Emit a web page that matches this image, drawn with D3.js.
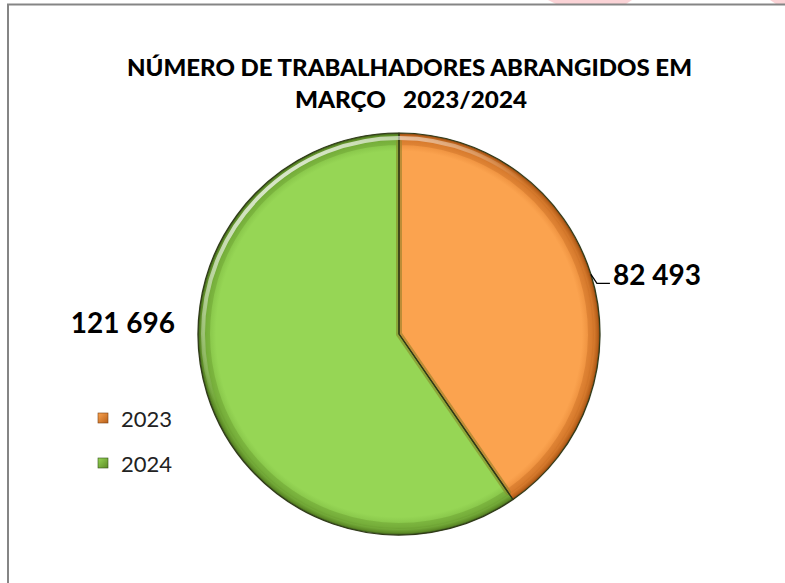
<!DOCTYPE html>
<html>
<head>
<meta charset="utf-8">
<script src="https://cdn.jsdelivr.net/npm/d3@7"></script>
<style>
  html, body { margin: 0; padding: 0; background: #fff; }
  svg { display: block; }
</style>
</head>
<body>
<div id="chart-area"></div>
<script>
// chart data
const years = ["2023", "2024"]
const workers = [82493, 121696]
const valueLabels = ["82 493", "121 696"]
const titleLines = ["NÚMERO DE TRABALHADORES ABRANGIDOS EM", "MARÇO   2023/2024"]

const WIDTH = 785
const HEIGHT = 583
const CX = 399, CY = 334, R = 201

const colors = {
  "2023": { base: "#fba34f", mid: "#e88a38", dark: "#b8601a", edge: "#7a4012" },
  "2024": { base: "#96d655", mid: "#82bf45", dark: "#5c8a26", edge: "#34501a" }
}

const svg = d3.select("#chart-area").append("svg")
  .attr("width", WIDTH)
  .attr("height", HEIGHT)

const defs = svg.append("defs")

// radial shading for the bevelled rim (local to the pie group)
years.forEach(yr => {
  const grad = defs.append("radialGradient")
    .attr("id", `rim-${yr}`)
    .attr("gradientUnits", "userSpaceOnUse")
    .attr("cx", 0).attr("cy", 0).attr("r", R)
  grad.append("stop").attr("offset", "0%").attr("stop-color", colors[yr].base)
  grad.append("stop").attr("offset", "91%").attr("stop-color", colors[yr].base)
  grad.append("stop").attr("offset", "96%").attr("stop-color", colors[yr].mid)
  grad.append("stop").attr("offset", "99%").attr("stop-color", colors[yr].dark)
  grad.append("stop").attr("offset", "100%").attr("stop-color", colors[yr].edge)

  const lg = defs.append("linearGradient")
    .attr("id", `key-${yr}`)
    .attr("x1", 0).attr("y1", 0).attr("x2", 1).attr("y2", 1)
  lg.append("stop").attr("offset", "0%").attr("stop-color", colors[yr].base)
  lg.append("stop").attr("offset", "100%").attr("stop-color", colors[yr].dark)
})

// highlight on the upper-left rim
const hl = defs.append("linearGradient")
  .attr("id", "highlight")
  .attr("gradientUnits", "userSpaceOnUse")
  .attr("x1", -R * 0.5).attr("y1", -R).attr("x2", 0).attr("y2", -R * 0.3)
hl.append("stop").attr("offset", "0%").attr("stop-color", "#ffffff").attr("stop-opacity", 0.85)
hl.append("stop").attr("offset", "100%").attr("stop-color", "#ffffff").attr("stop-opacity", 0)

// stray pink background bleed at the top
svg.append("path")
  .attr("d", "M548,0 L632,0 L626,4 L556,4 Z")
  .attr("fill", "#fbd3d6")
svg.append("path")
  .attr("d", "M770,0 L785,0 L785,4 L776,4 Z")
  .attr("fill", "#fbd3d6")

// frame (top and left edges only)
svg.append("line")
  .attr("x1", 7).attr("x2", WIDTH).attr("y1", 4.5).attr("y2", 4.5)
  .attr("stroke", "#858585").attr("stroke-width", 2)
svg.append("line")
  .attr("x1", 8).attr("x2", 8).attr("y1", 4).attr("y2", HEIGHT)
  .attr("stroke", "#858585").attr("stroke-width", 2)

// title
const title = svg.append("text")
  .attr("font-family", "Lato, 'Open Sans', sans-serif")
  .attr("font-weight", "900")
  .attr("font-size", "23px")
  .attr("fill", "#000")
title.append("tspan")
  .attr("x", 127).attr("y", 76)
  .attr("textLength", 565).attr("lengthAdjust", "spacingAndGlyphs")
  .text(titleLines[0])
title.append("tspan")
  .attr("x", 295).attr("y", 108)
  .attr("textLength", 232).attr("lengthAdjust", "spacingAndGlyphs")
  .style("white-space", "pre")
  .text(titleLines[1])

// pie
const pie = d3.pie().sort(null).value(d => d.value)
const arcs = pie(years.map((yr, i) => ({ year: yr, value: workers[i], label: valueLabels[i] })))
const arc = d3.arc().innerRadius(0).outerRadius(R)
const innerArc = d3.arc().innerRadius(0).outerRadius(R - 9)

const g = svg.append("g")
  .attr("transform", `translate(${CX}, ${CY})`)

// faint shadow around the disc
g.append("circle")
  .attr("r", R + 1)
  .attr("fill", "#d8d8d8")
  .attr("opacity", 0.5)

g.selectAll("path.slice")
  .data(arcs)
  .enter().append("path")
  .attr("class", "slice")
  .attr("d", arc)
  .attr("fill", d => `url(#rim-${d.data.year})`)

// soft bevel along the straight edges
g.selectAll("path.bevel")
  .data(arcs)
  .enter().append("path")
  .attr("class", "bevel")
  .attr("d", innerArc)
  .attr("fill", "none")
  .attr("stroke", d => colors[d.data.year].dark)
  .attr("stroke-opacity", 0.3)
  .attr("stroke-width", 6)
  .attr("stroke-linejoin", "round")

g.selectAll("path.edge")
  .data(arcs)
  .enter().append("path")
  .attr("class", "edge")
  .attr("d", arc)
  .attr("fill", "none")
  .attr("stroke", "#2f3a17")
  .attr("stroke-width", 1.2)
  .attr("stroke-linejoin", "round")

// rim highlight
g.append("circle")
  .attr("r", R - 5)
  .attr("fill", "none")
  .attr("stroke", "url(#highlight)")
  .attr("stroke-width", 4)

// value labels
const labelFont = "Lato, 'Open Sans', sans-serif"
const a0 = arcs[0]
const mid0 = (a0.startAngle + a0.endAngle) / 2
const p0 = [R * Math.sin(mid0), -R * Math.cos(mid0)]
const elbow = [p0[0] + 6, p0[1] + 9]
g.append("polyline")
  .attr("points", [p0, elbow, [elbow[0] + 13, elbow[1]]].map(p => p.join(",")).join(" "))
  .attr("fill", "none")
  .attr("stroke", "#000")
  .attr("stroke-width", 1.3)
g.append("text")
  .attr("x", elbow[0] + 16)
  .attr("y", elbow[1] + 2)
  .attr("font-family", labelFont)
  .attr("font-weight", "bold")
  .attr("font-size", "28px")
  .attr("fill", "#000")
  .text(a0.data.label)

const a1 = arcs[1]
g.append("text")
  .attr("x", -R - 23)
  .attr("y", -1)
  .attr("text-anchor", "end")
  .attr("font-family", labelFont)
  .attr("font-weight", "bold")
  .attr("font-size", "28px")
  .attr("fill", "#000")
  .text(a1.data.label)

// legend
const legend = svg.append("g")
  .attr("transform", "translate(98, 412)")
const items = legend.selectAll("g")
  .data(years)
  .enter().append("g")
  .attr("transform", (d, i) => `translate(0, ${i * 45})`)
items.append("rect")
  .attr("width", 10).attr("height", 10)
  .attr("y", 1)
  .attr("fill", d => `url(#key-${d})`)
  .attr("stroke", d => colors[d].edge)
  .attr("stroke-width", 0.6)
items.append("text")
  .attr("x", 23)
  .attr("y", 15)
  .attr("font-family", labelFont)
  .attr("font-size", "22px")
  .attr("fill", "#222")
  .text(d => d)
</script>
</body>
</html>
